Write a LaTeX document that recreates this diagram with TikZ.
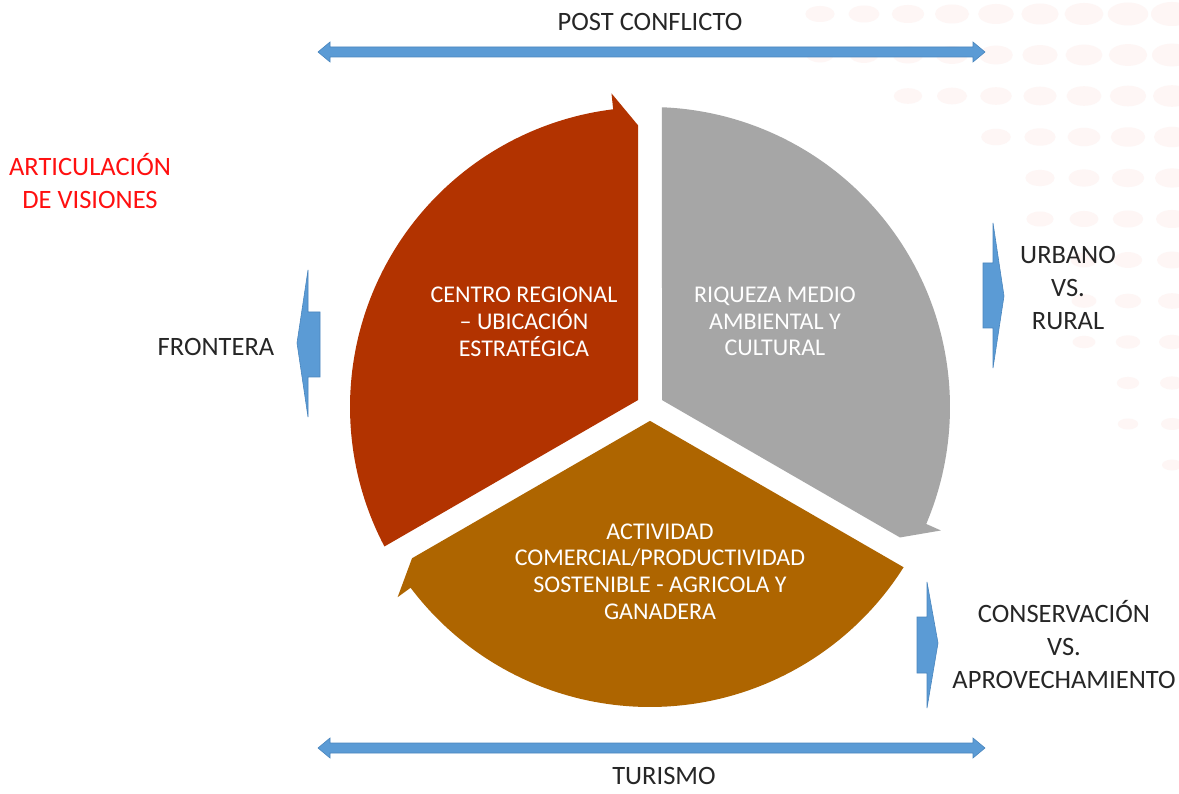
\documentclass[tikz,border=0pt]{standalone}
\usepackage{fontspec}
\setmainfont{Carlito}
\definecolor{redslice}{HTML}{B23300}
\definecolor{grayslice}{HTML}{A6A6A6}
\definecolor{orangeslice}{HTML}{AE6500}
\definecolor{bluearrow}{HTML}{5B9BD5}
\definecolor{blueedge}{HTML}{4A86BE}
\definecolor{dotpink}{HTML}{FEF6F5}
\definecolor{titlered}{HTML}{FF1010}
\begin{document}
\begin{tikzpicture}[x=1pt,y=-1pt,
  slicetext/.style={text=white,align=center,font=\fontsize{24}{26.8}\selectfont},
  sidetext/.style={text=black!85,align=center,font=\fontsize{26.5}{33}\selectfont},
  blueshape/.style={fill=bluearrow,draw=blueedge,line width=0.6pt,line join=miter}]
\useasboundingbox (0,0) rectangle (1179,794);
\fill[white] (0,0) rectangle (1179,794);
% faint background dots
\foreach \i/\n in {0/11,1/10,2/8,3/5,4/3,5/2,6/2,7/1,8/1}{
  \foreach \j in {0,...,\n}{
    \fill[dotpink] ({1172-44*\i},{14+41*\j}) ellipse [x radius={max(5,21-1.0*\j-0.8*\i)}, y radius={max(3,12-0.6*\j-0.5*\i)}];
  }
}
% slices
\foreach \L/\col in {90/redslice, -30/grayslice, 210/orangeslice}{
  \fill[\col] plot[domain=0:1, samples=90] ({650+300*cos(\L+117.71-110.71*\x)},{407-300*sin(\L+117.71-110.71*\x)})
    -- ({650+316*cos(\L+7)},{407-316*sin(\L+7)})
    -- ({650+282*cos(\L+2.44)},{407-282*sin(\L+2.44)})
    -- ({650+13.86*cos(\L+60)},{407-13.86*sin(\L+60)}) -- cycle;
}
% slice texts
\node[slicetext] (centro) at (524,321.5) {CENTRO REGIONAL\\– UBICACIÓN\\ESTRATÉGICA};
\node[slicetext] (riqueza) at (775,321.5) {RIQUEZA MEDIO\\AMBIENTAL Y\\CULTURAL};
\node[slicetext] (actividad) at (660,571.5) {ACTIVIDAD\\COMERCIAL/PRODUCTIVIDAD\\SOSTENIBLE - AGRICOLA Y\\GANADERA};
% horizontal double arrows
\fill[blueshape] (318,52) -- (330,42) -- (330,47) -- (973,47) -- (973,42) -- (985,52) -- (973,62) -- (973,57) -- (330,57) -- (330,62) -- cycle;
\fill[blueshape] (318,748) -- (330,738) -- (330,743) -- (973,743) -- (973,738) -- (985,748) -- (973,758) -- (973,753) -- (330,753) -- (330,758) -- cycle;
% side arrows
\fill[blueshape] (320,312) -- (308,312) -- (308,270) -- (297,343) -- (308,417) -- (308,377) -- (320,377) -- cycle;
\fill[blueshape] (983,263) -- (993,263) -- (993,223) -- (1004,296) -- (993,368) -- (993,328) -- (983,328) -- cycle;
\fill[blueshape] (917,617) -- (927,617) -- (927,582) -- (938,643) -- (927,708) -- (927,673) -- (917,673) -- cycle;
% labels
\node[sidetext] (post) at (650,22) {POST CONFLICTO};
\node[sidetext] (turismo) at (664,776) {TURISMO};
\node[sidetext,text=titlered] (articulacion) at (90,181) {ARTICULACIÓN\\DE VISIONES};
\node[sidetext] (frontera) at (216,347) {FRONTERA};
\node[sidetext] (urbano) at (1068,288) {URBANO\\VS.\\RURAL};
\node[sidetext] (conservacion) at (1064,645) {CONSERVACIÓN\\VS.\\APROVECHAMIENTO};
\end{tikzpicture}
\end{document}
